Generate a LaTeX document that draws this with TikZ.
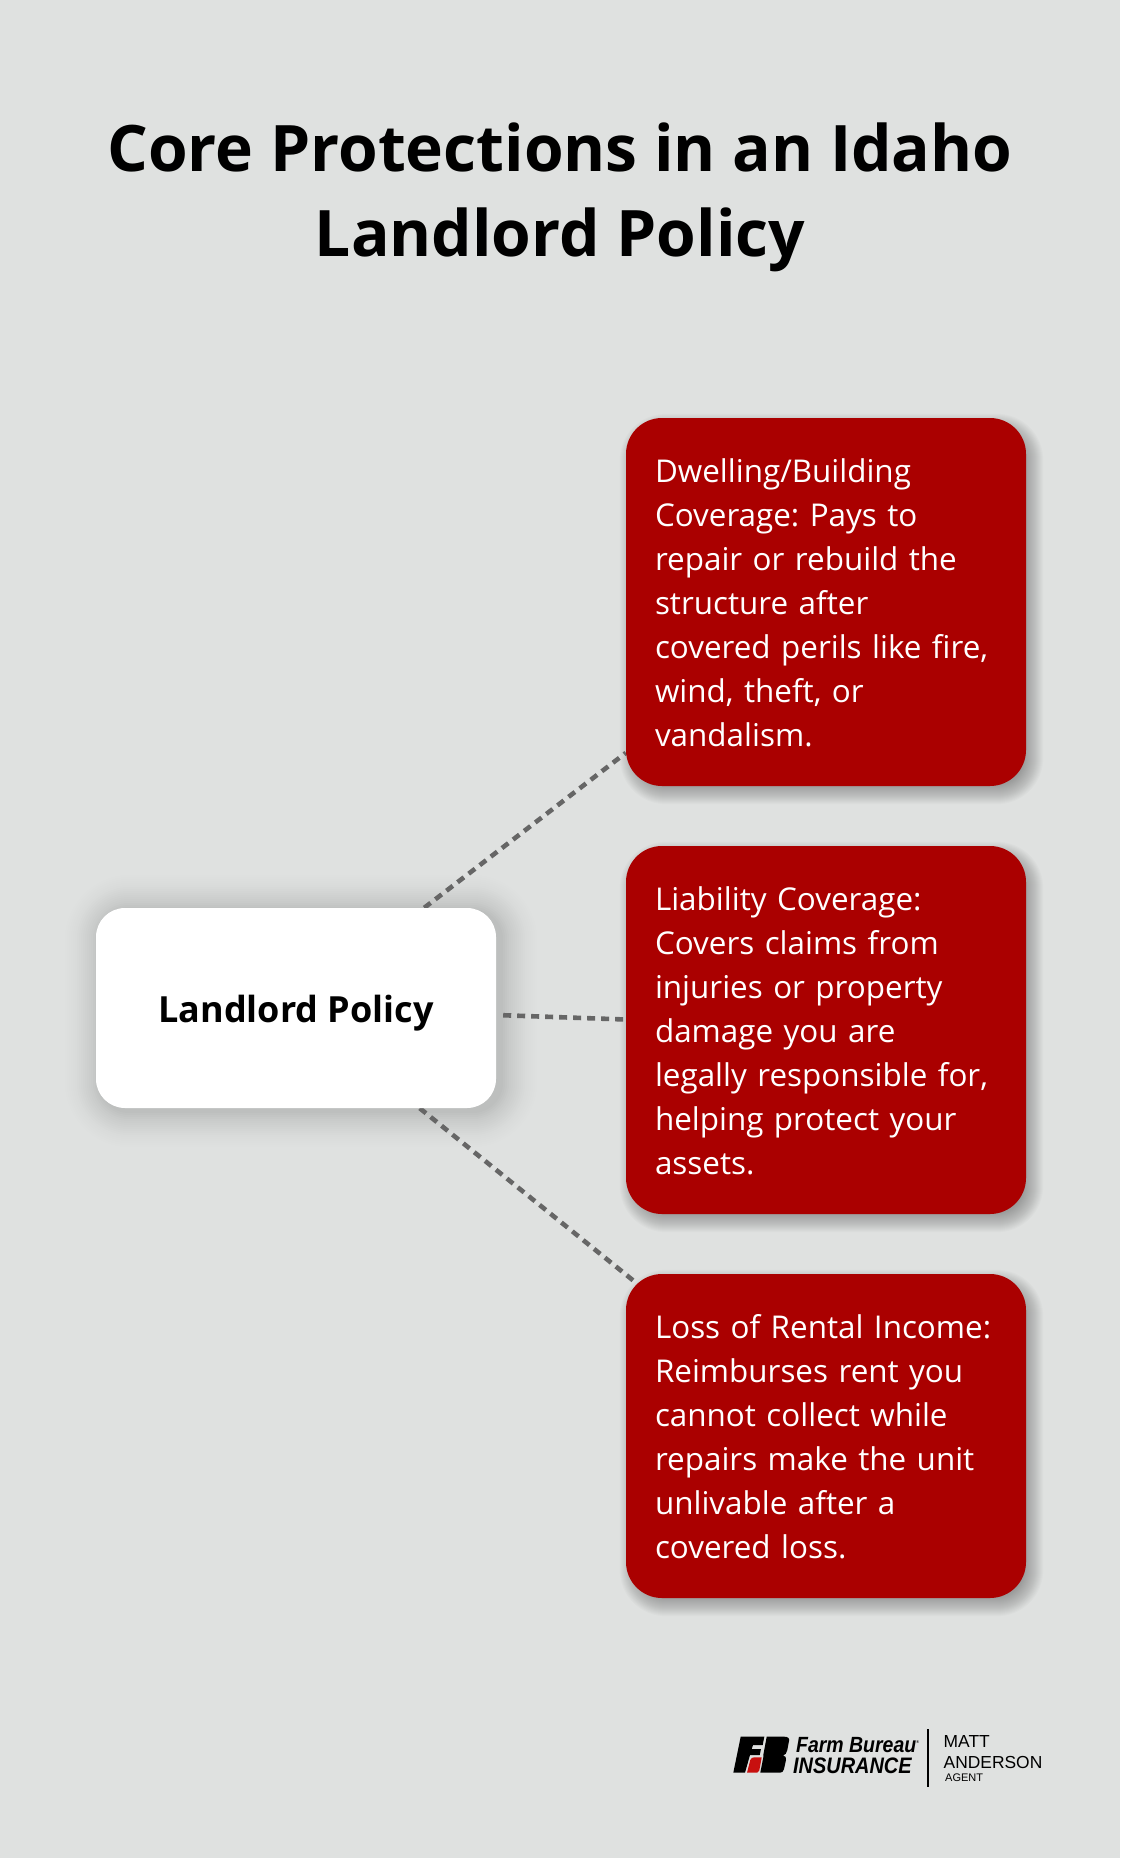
\documentclass[tikz,border=0pt]{standalone}
\usepackage{fontspec}
\setmainfont{Open Sans}
\newfontfamily\logofont{Liberation Sans}
\usetikzlibrary{calc}
\definecolor{pagegray}{HTML}{DFE1E0}
\definecolor{boxred}{HTML}{AA0000}
\definecolor{dashgray}{HTML}{666666}
\definecolor{logored}{HTML}{C8100F}
\pgfdeclarelayer{bg}
\pgfsetlayers{bg,main}
\tikzset{
  redbox/.style={fill=boxred,text=white,rounded corners=36pt,minimum width=400pt,text width=342pt,
    inner xsep=29pt,inner ysep=0pt,text height=25.5pt,align=left,font=\fontsize{31.4}{44}\selectfont},
  mainbox/.style={fill=white,rounded corners=29pt,minimum width=400pt,minimum height=200pt,
    inner sep=0pt,text height=28pt,text depth=0pt,font=\fontsize{36}{44}\selectfont\bfseries},
  dashline/.style={dashgray,line width=4.6pt,dash pattern=on 8pt off 6pt},
  logotext/.style={inner sep=0pt,anchor=base west,font=\logofont\fontsize{#1}{#1}\selectfont},
  brandtext/.style={inner sep=0pt,anchor=base west,font=\logofont\fontsize{#1}{#1}\selectfont\bfseries\itshape},
}
\frenchspacing
\begin{document}
\begin{tikzpicture}[x=1pt,y=-1pt]
  \useasboundingbox (0,0) rectangle (1120,1858);

  \node[font=\fontsize{64.1}{85}\selectfont\bfseries,align=center] (title) at (560,197)
    {Core Protections in an Idaho\\Landlord Policy};

  \node[mainbox] (main) at (296,1008) {Landlord Policy};

  \node[redbox,minimum height=368pt] (boxa) at (826,602)
    {Dwelling/Building\\Coverage: Pays to\\repair or rebuild the\\structure after\\covered perils like fire,\\wind, theft, or\\vandalism.};
  \node[redbox,minimum height=368pt] (boxb) at (826,1030)
    {Liability Coverage:\\Covers claims from\\injuries or property\\damage you are\\legally responsible for,\\helping protect your\\assets.};
  \node[redbox,minimum height=324pt] (boxc) at (826,1436)
    {Loss of Rental Income:\\Reimburses rent you\\cannot collect while\\repairs make the unit\\unlivable after a\\covered loss.};

  % page, shadows and connectors sit under the boxes
  \begin{pgfonlayer}{bg}
    \fill[pagegray] (0,0) rectangle (1120,1858);
    \foreach \k [evaluate=\k as \op using 0.003+0.009*(1-\k/36)] in {2,4,...,36}
      \fill[black,opacity=\op,rounded corners={(29+\k)*1pt}]
        ($(main.south west)+(-\k+5,\k+3)$) rectangle ($(main.north east)+(\k+5,-\k+3)$);
    \foreach \n in {boxa,boxb,boxc}
      \foreach \k in {1,...,20}
        \fill[black,opacity=0.016,rounded corners={(26+\k)*1pt}]
          ($(\n.south west)+(-\k+14,\k-2)$) rectangle ($(\n.north east)+(\k-3,-\k+16)$);
    \draw[dashline] (main.38) -- (boxa.217);
    \draw[dashline,shorten <=7pt] (main.-2.5) -- (boxb.177.5);
    \draw[dashline] (main.-39) -- ($(boxc.north west)+(14,12)$);
  \end{pgfonlayer}

  % logo
  \fill[black] (740.7,1736.7) -- (764.3,1736.7) -- (762.7,1745) -- (753,1745) -- (751.7,1749) -- (761,1749) -- (759.7,1755) -- (750,1755) -- (745,1772.7) -- (733.3,1772.7) -- cycle;
  \fill[logored] (747,1772.7) -- (750.3,1760) .. controls (751,1758) and (752.5,1757.3) .. (754.3,1757.3) -- (761.7,1757.3) -- (760,1766.7) .. controls (759.5,1770) and (759,1772.7) .. (757,1772.7) -- cycle;
  \fill[black] (766.7,1736.7) -- (784.3,1736.7) .. controls (788,1736.7) and (789.5,1738) .. (789,1741) -- (787.3,1750) .. controls (787,1753) and (785,1755) .. (783,1755.6) .. controls (785.5,1756) and (786.5,1757) .. (786,1760) -- (784,1769) .. controls (783.5,1771.5) and (782,1772.7) .. (780,1772.7) -- (760.3,1772.7) -- (763.3,1757.3) -- (763.3,1755) -- cycle;
  \node[brandtext=22,xscale=0.885] (brandtop) at (796,1752) {Farm Bureau{\fontsize{4}{4}\selectfont\raisebox{9pt}{®}}};
  \node[brandtext=22.4,xscale=0.89] (brandbot) at (793,1773) {INSURANCE};
  \draw[black,line width=1.2pt] (928,1729) -- (928,1787);
  \node[logotext=17.4] (matt) at (943.5,1747) {MATT};
  \node[logotext=17.4] (anderson) at (943.5,1768) {ANDERSON};
  \node[logotext=11] (agent) at (945,1781) {AGENT};
\end{tikzpicture}
\end{document}
